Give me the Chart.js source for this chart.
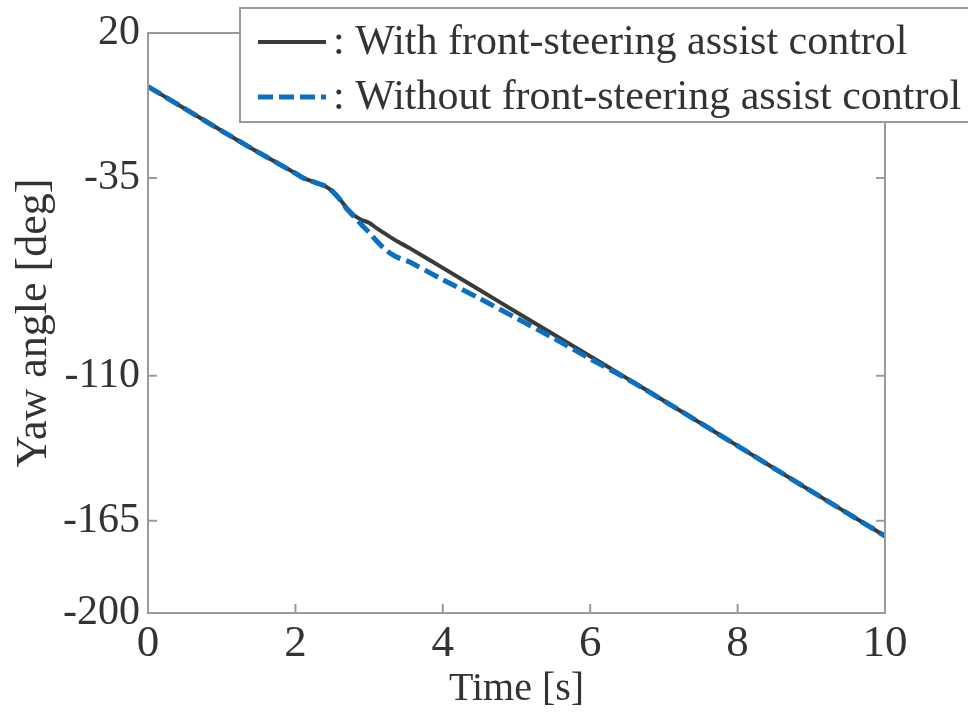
<!DOCTYPE html>
<html>
<head>
<meta charset="utf-8">
<script src="https://cdn.jsdelivr.net/npm/chart.js@4.4.1/dist/chart.umd.min.js"></script>
<style>
  html, body { margin: 0; padding: 0; background: #ffffff; }
  #wrap { width: 968px; height: 713px; }
</style>
</head>
<body>
<div id="wrap"><canvas id="c" width="968" height="713"></canvas></div>
<script>
// Time samples [s]
const timeS = [0, 0.5, 1, 1.5, 2, 2.1, 2.2, 2.3, 2.4, 2.5, 2.6, 2.7, 2.8, 2.9, 3.0, 3.1, 3.2, 3.3, 3.4, 3.55, 4.0, 4.5, 5.0, 5.5, 6.0, 6.5, 7.0, 7.5, 8.0, 8.5, 9.0, 9.5, 10];

// Yaw angle [deg] with front-steering assist control
const yawWith = [-0.3, -8.7, -17.1, -25.3, -33.2, -34.9, -36.0, -37.0, -38.0, -40.0, -43.0, -46.4, -49.2, -50.9, -52.0, -54.0, -55.8, -57.6, -59.3, -61.6, -69.1, -77.5, -85.9, -94.3, -102.6, -111.0, -119.5, -128.0, -136.6, -145.2, -153.8, -162.3, -170.8];

// Yaw angle [deg] without front-steering assist control
const yawWithout = [-0.3, -8.7, -17.1, -25.3, -33.2, -34.9, -36.0, -37.0, -38.0, -40.0, -43.0, -46.8, -49.8, -52.8, -55.6, -58.8, -61.6, -63.8, -65.3, -66.9, -73.6, -80.7, -88.2, -95.7, -103.6, -111.2, -119.5, -128.0, -136.6, -145.2, -153.8, -162.3, -170.8];

const yTicks = [20, -35, -110, -165, -200];
const xTicks = [0, 2, 4, 6, 8, 10];

const seriesLabels = [': With front-steering assist control', ': Without front-steering assist control'];

const FONT = 'Liberation Serif, DejaVu Serif, serif';
const TEXT = '#33332f';
const FRAME = '#9a9a9a';

const toPts = (ys) => timeS.map((t, i) => ({ x: t, y: ys[i] }));

// Box frame with inward tick marks on all four sides
const framePlugin = {
  id: 'frame',
  afterDatasetsDraw(chart) {
    const { ctx, chartArea: a, scales } = chart;
    ctx.save();
    ctx.strokeStyle = FRAME;
    ctx.lineWidth = 2;
    ctx.strokeRect(a.left, a.top, a.right - a.left, a.bottom - a.top);
    ctx.beginPath();
    const L = 9;
    xTicks.forEach(v => {
      const px = scales.x.getPixelForValue(v);
      ctx.moveTo(px, a.bottom); ctx.lineTo(px, a.bottom - L);
      ctx.moveTo(px, a.top); ctx.lineTo(px, a.top + L);
    });
    yTicks.forEach(v => {
      const py = scales.y.getPixelForValue(v);
      ctx.moveTo(a.left, py); ctx.lineTo(a.left + L, py);
      ctx.moveTo(a.right, py); ctx.lineTo(a.right - L, py);
    });
    ctx.stroke();
    ctx.restore();
  }
};

// Legend box laid over the upper right of the plot
const legendBox = {
  id: 'legendBox',
  afterDraw(chart) {
    const { ctx } = chart;
    const x0 = 240, y0 = 8, w = 740, h = 114;
    ctx.save();
    ctx.fillStyle = '#ffffff';
    ctx.fillRect(x0, y0, w, h);
    ctx.strokeStyle = FRAME;
    ctx.lineWidth = 2;
    ctx.strokeRect(x0, y0, w, h);
    const rows = [42, 97];
    chart.data.datasets.forEach((ds, i) => {
      const y = rows[i];
      ctx.beginPath();
      ctx.strokeStyle = ds.borderColor;
      ctx.lineWidth = ds.borderWidth;
      ctx.setLineDash(ds.borderDash || []);
      ctx.moveTo(258, y); ctx.lineTo(326, y);
      ctx.stroke();
      ctx.setLineDash([]);
      ctx.fillStyle = TEXT;
      ctx.font = '42px ' + FONT;
      ctx.textBaseline = 'middle';
      ctx.textAlign = 'left';
      ctx.fillText(ds.label, 333, y + 1);
    });
    ctx.restore();
  }
};

new Chart(document.getElementById('c'), {
  type: 'line',
  data: {
    datasets: [
      {
        label: seriesLabels[0],
        data: toPts(yawWith),
        borderColor: '#3a3a36',
        borderWidth: 4,
        pointRadius: 0,
        tension: 0.3,
        order: 2
      },
      {
        label: seriesLabels[1],
        data: toPts(yawWithout),
        borderColor: '#0b6fc2',
        borderWidth: 5,
        borderDash: [15, 6],
        pointRadius: 0,
        tension: 0.3,
        order: 1
      }
    ]
  },
  options: {
    responsive: false,
    animation: false,
    layout: { padding: { top: 33, right: 83, left: 8, bottom: 0 } },
    plugins: { legend: { display: false }, tooltip: { enabled: false } },
    scales: {
      x: {
        type: 'linear',
        min: 0, max: 10,
        afterBuildTicks: (s) => { s.ticks = xTicks.map(v => ({ value: v })); },
        afterFit: (s) => { s.height = 100; },
        grid: { display: false },
        border: { display: false },
        ticks: { color: TEXT, font: { family: FONT, size: 45 }, padding: -4, maxRotation: 0 },
        title: { display: true, text: 'Time [s]', color: TEXT, font: { family: FONT, size: 40 }, padding: { top: 0, bottom: 0 } }
      },
      y: {
        type: 'linear',
        min: -200, max: 20,
        afterBuildTicks: (s) => { s.ticks = yTicks.map(v => ({ value: v })); },
        afterFit: (s) => { s.width = 140; },
        grid: { display: false },
        border: { display: false },
        ticks: { color: TEXT, font: { family: FONT, size: 42 }, padding: 0 },
        title: { display: true, text: 'Yaw angle [deg]', color: TEXT, font: { family: FONT, size: 44 }, padding: { top: 0, bottom: 0 } }
      }
    }
  },
  plugins: [framePlugin, legendBox]
});
</script>
</body>
</html>
